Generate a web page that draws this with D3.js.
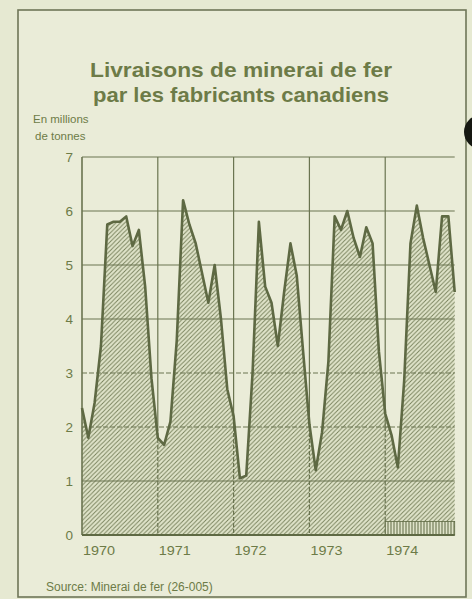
<!DOCTYPE html>
<html>
<head>
<meta charset="utf-8">
<script src="https://cdn.jsdelivr.net/npm/d3@7"></script>
<style>
  html, body { margin: 0; padding: 0; background: #e6e9d2; }
  svg { display: block; }
  text { font-family: "Liberation Sans", Arial, sans-serif; fill: #6d7b47; }
</style>
</head>
<body>
<div id="chart"></div>
<script>
// monthly shipments, millions of tonnes (Jan..Dec)
var years = [1970, 1971, 1972, 1973, 1974];
var ship1970 = [2.35, 1.8, 2.45, 3.5, 5.75, 5.8, 5.8, 5.9, 5.35, 5.65, 4.6, 2.9];
var ship1971 = [1.8, 1.67, 2.1, 3.6, 6.2, 5.75, 5.4, 4.85, 4.3, 5.0, 4.0, 2.7];
var ship1972 = [2.2, 1.05, 1.1, 3.0, 5.8, 4.6, 4.3, 3.5, 4.5, 5.4, 4.8, 3.4];
var ship1973 = [2.05, 1.2, 1.9, 3.2, 5.9, 5.65, 6.0, 5.5, 5.15, 5.7, 5.4, 3.4];
var ship1974 = [2.25, 1.85, 1.25, 2.85, 5.4, 6.1, 5.5, 5.0, 4.5, 5.9, 5.9, 4.5];
var yTicks = [0, 1, 2, 3, 4, 5, 6, 7];
// small cross-hatched strip along the bottom of 1974
var stripMonths = [48, 59];
var stripHeight = 0.25;

var values = ship1970.concat(ship1971, ship1972, ship1973, ship1974);

var w = 472, h = 599;
var plotLeft = 82, plotTop = 157, plotBottom = 535;
var monthW = 6.317;

var x = d3.scaleLinear().domain([0, 60]).range([plotLeft, plotLeft + 60 * monthW]);
var y = d3.scaleLinear().domain([0, 7]).range([plotBottom, plotTop]);
var xEnd = x(values.length - 1);

var ink = "#5e6943";
var gridCol = "#6a7450";

var svg = d3.select("#chart").append("svg")
    .attr("width", w)
    .attr("height", h);

// "/" hatching under the curve
var hs = 4.4;
var defs = svg.append("defs");
var hatch = defs.append("pattern")
    .attr("id", "hatch")
    .attr("patternUnits", "userSpaceOnUse")
    .attr("width", hs).attr("height", hs);
hatch.append("rect").attr("width", hs).attr("height", hs).attr("fill", "#e0e4ca");
hatch.append("path")
    .attr("d", "M0," + hs + "L" + hs + ",0M-1,1L1,-1M" + (hs - 1) + "," + (hs + 1) + "L" + (hs + 1) + "," + (hs - 1))
    .attr("stroke", "#747e58").attr("stroke-width", 0.9);

var vhatch = defs.append("pattern")
    .attr("id", "vhatch")
    .attr("patternUnits", "userSpaceOnUse")
    .attr("width", 3).attr("height", 12);
vhatch.append("rect").attr("width", 3).attr("height", 12).attr("fill", "#dfe3c9");
vhatch.append("line")
    .attr("x1", 1).attr("y1", 0).attr("x2", 1).attr("y2", 12)
    .attr("stroke", "#5e6943").attr("stroke-width", 1);

// background + frame
svg.append("rect").attr("width", w).attr("height", h).attr("fill", "#e6e9d2");
svg.append("rect")
    .attr("x", 18).attr("y", 10)
    .attr("width", 448).attr("height", 587)
    .attr("fill", "#eaecd8")
    .attr("stroke", "#6f7658").attr("stroke-width", 1.6);

// hole shadow at the right edge
svg.append("circle").attr("cx", 481).attr("cy", 132).attr("r", 17).attr("fill", "#161812");

// title
var title = svg.append("g").attr("font-weight", "bold").attr("text-anchor", "middle");
title.append("text").attr("x", 241).attr("y", 77)
    .attr("font-size", 21)
    .attr("textLength", 302).attr("lengthAdjust", "spacingAndGlyphs")
    .text("Livraisons de minerai de fer");
title.append("text").attr("x", 241).attr("y", 102)
    .attr("font-size", 21)
    .attr("textLength", 296).attr("lengthAdjust", "spacingAndGlyphs")
    .text("par les fabricants canadiens");

svg.append("text").attr("x", 33).attr("y", 123).attr("font-size", 11.5).text("En millions");
svg.append("text").attr("x", 35).attr("y", 140).attr("font-size", 11.5).text("de tonnes");

// area under the curve
var area = d3.area()
    .x(function(d, i) { return x(i); })
    .y0(y(0))
    .y1(function(d) { return y(d); });

svg.append("path")
    .datum(values)
    .attr("d", area)
    .attr("fill", "url(#hatch)");

// horizontal grid
svg.append("g")
    .selectAll("line")
    .data(yTicks.filter(function(d) { return d > 0; }))
    .enter().append("line")
    .attr("x1", plotLeft).attr("x2", xEnd)
    .attr("y1", function(d) { return y(d); })
    .attr("y2", function(d) { return y(d); })
    .attr("stroke", gridCol)
    .attr("stroke-width", 1.2)
    .attr("stroke-dasharray", function(d) { return (d === 2 || d === 3) ? "5,2" : null; });

// vertical year lines
var yearLines = svg.append("g");
yearLines.selectAll("line.upper")
    .data(years)
    .enter().append("line")
    .attr("class", "upper")
    .attr("x1", function(d, i) { return x(i * 12); })
    .attr("x2", function(d, i) { return x(i * 12); })
    .attr("y1", y(7)).attr("y2", function(d, i) { return i === 0 ? y(0) : y(2); })
    .attr("stroke", gridCol)
    .attr("stroke-width", function(d, i) { return i === 0 ? 1.6 : 1.2; });
yearLines.selectAll("line.lower")
    .data(years.slice(1))
    .enter().append("line")
    .attr("class", "lower")
    .attr("x1", function(d, i) { return x((i + 1) * 12); })
    .attr("x2", function(d, i) { return x((i + 1) * 12); })
    .attr("y1", y(2)).attr("y2", y(0))
    .attr("stroke", gridCol)
    .attr("stroke-width", 1.2)
    .attr("stroke-dasharray", "4,2");

// strip at bottom of 1974
svg.append("rect")
    .attr("x", x(stripMonths[0]))
    .attr("y", y(stripHeight))
    .attr("width", x(stripMonths[1]) - x(stripMonths[0]))
    .attr("height", y(0) - y(stripHeight))
    .attr("fill", "url(#vhatch)")
    .attr("stroke", ink).attr("stroke-width", 0.8);

// baseline
svg.append("line")
    .attr("x1", plotLeft).attr("x2", xEnd)
    .attr("y1", y(0)).attr("y2", y(0))
    .attr("stroke", ink).attr("stroke-width", 2.2);

// curve
var line = d3.line()
    .x(function(d, i) { return x(i); })
    .y(function(d) { return y(d); });

svg.append("path")
    .datum(values)
    .attr("d", line)
    .attr("fill", "none")
    .attr("stroke", ink)
    .attr("stroke-width", 2.6)
    .attr("stroke-linejoin", "round");

// y axis labels
var yAxis = d3.axisLeft(y).tickValues(yTicks).tickFormat(d3.format("d")).tickSize(0).tickPadding(9);
var ya = svg.append("g").attr("transform", "translate(" + plotLeft + ",0)").call(yAxis);
ya.select(".domain").remove();
ya.selectAll("text")
    .attr("font-size", 13.5)
    .attr("font-family", "Liberation Sans, Arial, sans-serif")
    .attr("fill", "#6d7b47")
    .attr("dy", "0.36em");

// year labels, starting at each year line
svg.append("g")
    .selectAll("text")
    .data(years)
    .enter().append("text")
    .attr("x", function(d, i) { return x(i * 12) + 1; })
    .attr("y", 555)
    .attr("font-size", 13)
    .attr("textLength", 32).attr("lengthAdjust", "spacingAndGlyphs")
    .text(function(d) { return d; });

svg.append("text")
    .attr("x", 46).attr("y", 591)
    .attr("font-size", 12)
    .text("Source: Minerai de fer (26-005)");
</script>
</body>
</html>
